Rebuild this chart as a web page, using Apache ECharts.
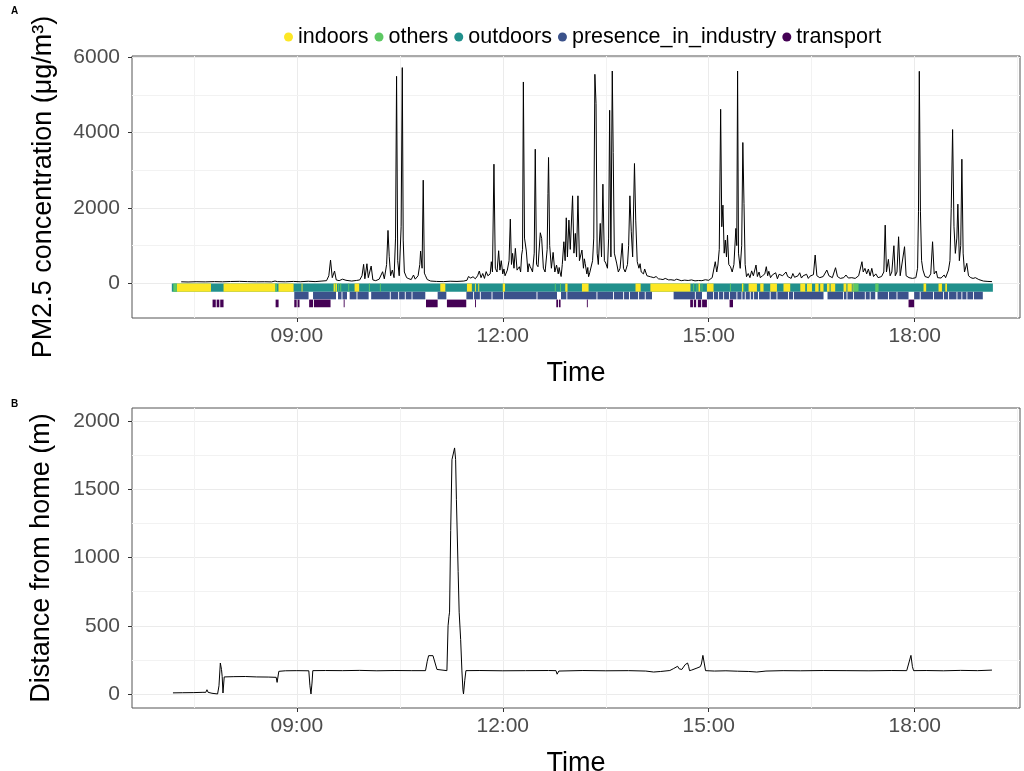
<!DOCTYPE html>
<html><head><meta charset="utf-8">
<script src="https://cdn.jsdelivr.net/npm/echarts@6/dist/echarts.min.js"></script>
<style>html,body{margin:0;padding:0;background:#fff}#c{width:1024px;height:771px}</style>
</head><body><div id="c"></div>
<script>
// ---- data (time in minutes after midnight) ----
const categories = ['indoors','others','outdoors','presence_in_industry','transport'];
const xTickMinutes = [540, 720, 900, 1080];
const xMinorMinutes = [450, 630, 810, 990, 1170];
const pmTicks = [0, 2000, 4000, 6000];
const pmMinor = [1000, 3000, 5000];
const distTicks = [0, 500, 1000, 1500, 2000];
const distMinor = [250, 750, 1250, 1750];

const pm25 = [[439,40],[445,35],[452,42],[460,38],[468,45],[475,40],[482,48],[490,52],[497,45],[505,40],[512,42],[518,38],[521,60],[522,105],[523,45],[530,40],[537,50],[543,42],[550,55],[556,45],[562,60],[566,70],[568,200],[569.5,617],[571,150],[573,326],[574.5,90],[577,70],[580,110],[581.5,160],[583,80],[588,60],[592,75],[595,90],[597,200],[598.4,503],[599.5,120],[601.3,519],[602.5,150],[605,458],[606.5,90],[609,70],[612,110],[615,308],[616.5,120],[618.5,500],[619.7,1403],[620.8,705],[622,200],[623.5,352],[625,150],[626.3,1200],[627.2,5491],[628.2,600],[629.5,200],[631.2,1500],[632.2,5722],[633,1147],[634,300],[636,150],[638,120],[640,100],[642,220],[643.5,110],[646,200],[647.5,500],[648.2,856],[649.5,400],[650.5,2736],[651.5,270],[652.5,200],[654,100],[657,60],[662,50],[668,45],[674,55],[680,50],[686,60],[688.7,80],[690,180],[692,140],[694,175],[696,120],[698,200],[699.5,326],[701,150],[702.5,260],[704,130],[705.5,310],[707,200],[709,250],[710,573],[711,300],[712.3,3160],[713.5,400],[715,300],[716.4,864],[717.5,350],[718.7,600],[720,250],[721,380],[722,200],[724,350],[725.5,600],[726.6,1703],[727.6,500],[728.6,794],[729.8,400],[731,927],[732.5,350],[734.5,440],[735.6,300],[736.5,750],[737.3,900],[738,5341],[739,1200],[740.6,856],[742,300],[743,520],[744,440],[745,380],[746,300],[747.5,800],[748.4,3558],[749.5,500],[750.8,440],[752,400],[752.8,1341],[754,1192],[755.5,400],[757,300],[758.8,900],[759.5,2384],[760,3338],[761,1000],[762.5,400],[764,820],[765.5,300],[767,485],[768.5,250],[769.3,420],[770,300],[771,180],[772,500],[773.4,1103],[774.5,600],[775.5,1738],[776.5,700],[777.8,1677],[779,900],[781,2321],[782.2,800],[783.4,1324],[784.5,700],[785.7,2321],[787,600],[789.2,882],[790.5,400],[791.3,650],[792,530],[793.5,250],[794.3,420],[795,175],[796,280],[797,300],[798.5,600],[799.5,1200],[800.5,5544],[801.5,4768],[802.5,800],[803.5,500],[805.2,1589],[806.3,700],[807.5,2630],[808.8,600],[810,537],[811.5,400],[812.5,1200],[813.4,4591],[814.5,700],[815.7,5632],[816.5,3470],[817.5,800],[819.5,537],[821,300],[822.5,400],[824.4,1060],[825.5,400],[827,300],[829,500],[830,1000],[831.1,2321],[832.3,1367],[833.5,700],[835.1,3178],[836.2,1677],[837.5,573],[839,400],[840,520],[841,300],[842,260],[843,250],[844,380],[846,200],[847,240],[849,175],[850,210],[852,150],[854,180],[856,120],[858,110],[860,100],[862,130],[865,90],[867,95],[870,80],[872,110],[876,70],[879,85],[882,75],[885,90],[888,65],[891,75],[894,70],[897,95],[900,80],[903,150],[905.7,573],[907,300],[908,485],[909.2,900],[910.4,4617],[911.4,1500],[912.4,2074],[913.5,800],[914.5,1147],[915.5,700],[916.4,1280],[917.5,500],[919,441],[920.5,300],[922,500],[923.7,1456],[924.5,1000],[925.2,5632],[926,800],[927.5,397],[928.8,1000],[929.8,3735],[930.8,2119],[931.8,500],[933,175],[934.5,260],[936,150],[937.5,330],[939,200],[940,250],[941.3,485],[942.5,180],[944,300],[945,150],[947,200],[948,180],[949,250],[950.3,441],[951.5,200],[952.5,320],[954,150],[955.5,220],[957,180],[958.5,280],[960,120],[961.5,240],[963,200],[964.5,200],[966,150],[967.5,300],[969,180],[970.5,200],[972,130],[973.5,260],[975,160],[976.5,190],[978,200],[979.5,280],[981,140],[982.5,200],[984,170],[985.5,240],[987,130],[988.5,190],[990,160],[991.5,230],[993,750],[994.5,200],[997,150],[1000,180],[1003.2,352],[1005,200],[1008,150],[1010.8,414],[1012.5,180],[1015,130],[1018,150],[1019.9,220],[1022,140],[1025,150],[1028,130],[1031,200],[1033.9,573],[1035,300],[1036.5,397],[1038,250],[1039.5,380],[1041,200],[1042.5,397],[1044,180],[1046,250],[1048,150],[1051,180],[1053,300],[1054.2,1544],[1055.3,300],[1057,635],[1058.5,200],[1060,300],[1061.8,997],[1063,200],[1064.5,300],[1065.9,1235],[1067.3,200],[1069,250],[1071.1,971],[1072.5,200],[1075,150],[1078,130],[1081,150],[1082.5,400],[1083.3,1897],[1084,5624],[1085,1897],[1086,600],[1087.2,352],[1089,180],[1092,150],[1094,250],[1095.6,1103],[1097,250],[1098.8,326],[1100,150],[1103,140],[1105.7,220],[1107,150],[1109.5,352],[1110.8,600],[1111.9,1986],[1113.1,4079],[1114.3,1500],[1115.5,794],[1116.8,1200],[1117.7,2100],[1119,600],[1120.2,1000],[1121.2,3292],[1122.3,800],[1123.5,300],[1125.5,530],[1127,200],[1129,150],[1131,130],[1133,150],[1136,100],[1140,60],[1144,50],[1147.5,45]];

const distance = [[431.8,8],[440,9],[450,10],[458,12],[460.5,12],[461.5,31],[462.5,12],[465.9,5],[470.8,0],[472,60],[473.2,227],[474.2,180],[474.8,129],[475.5,7],[476.6,125],[485,127],[495,128],[505,125],[515,124],[522,122],[522.8,85],[524.3,166],[530,170],[540,171],[550.5,170],[551.5,60],[552.4,0],[553.3,80],[554,171],[565,172],[580,171],[595,173],[610,170],[625,172],[640,171],[652.5,171],[654,240],[655.2,281],[659,281],[660.5,270],[662.5,180],[663.1,171],[671.2,171],[672.2,500],[673,569],[673.5,600],[674.5,1200],[675.6,1719],[677,1730],[677.9,1805],[678.8,1720],[679.5,1425],[681,900],[681.9,600],[682.5,590],[683.2,400],[684.3,169],[685.2,30],[685.7,0],[686.8,100],[687.8,171],[700,172],[720,170],[740,171],[760,172],[766.5,171],[767.5,145],[768.2,134],[769,168],[770,171],[790,172],[810,170],[830,171],[845,168],[851.8,161],[858,165],[866,172],[869,185],[870.7,183],[872.8,203],[874.2,184],[876.5,180],[879.4,215],[881.5,227],[882.5,200],[883.2,171],[885,175],[886.7,183],[889.7,190],[892.6,200],[893.6,220],[894.9,283],[896.2,220],[897.2,171],[905,168],[915,170],[925,167],[935,165],[942,161],[950,168],[965,171],[980,170],[1000,172],[1020,171],[1040,170],[1060,172],[1073,171],[1074.6,175],[1076.7,283],[1078,200],[1079,171],[1090,172],[1105,170],[1120,173],[1135,171],[1147.5,175]];

// activity spans [start, end] in minutes
const outdoorsSpans = [[430.8,1148.3]];
const indoorsSpans = [[435.2,465],[476,521.2],[524,537.2],[544.2,545],[572.2,575.1],[590.5,594.5],[665.4,669.8],[688.7,693],[695.7,696.5],[698.6,699.3],[720,722],[774.6,776.6],[789.2,795],[836,840.5],[849,884],[891,892.5],[898.4,904.2],[929,930],[934.8,942.1],[945,947.9],[953.7,959.6],[965.3,971.2],[980,984.3],[985.8,990.2],[993,996],[997.4,1000.3],[1003.3,1005.6],[1006.5,1010.5],[1017.8,1020.3],[1021.2,1025],[1025.8,1026.5],[1087.7,1090],[1100.8,1103.8],[1106.7,1108.2]];
const othersSpans = [[432.1,435.2],[521.2,522.6],[573.3,574],[576.2,577],[578,578.8],[585,585.8],[603,603.8],[612.6,613.4],[765.5,766.3],[770,770.8],[886.4,887.2],[889.3,890.1],[893.7,894.5],[918.5,919.3],[930,931],[1026.5,1030.9],[1045.5,1048.4]];
const industrySpans = [[537.8,550.3],[554.2,574.3],[576,579.1],[579.9,583.9],[586.2,592.2],[593,602.8],[605,621.3],[622.1,628.6],[629.4,634.4],[635.2,640.3],[641.1,652.3],[663.1,670.7],[688.2,694.1],[694.9,700],[700.8,710.2],[711,720.3],[721.1,749.5],[750.3,767.4],[770.9,775.6],[776.4,801.9],[802.7,816.4],[817.2,825.2],[826,830.4],[831.2,838.3],[839.1,844.1],[844.9,850.4],[869.3,887.9],[888.7,894.1],[898.4,903.8],[904.6,908.2],[909,912.6],[913.4,917.8],[918.6,924.2],[925,928.6],[929.4,931.5],[932.3,935.9],[936.7,938.8],[939.6,943.1],[943.9,953.3],[954.1,959.2],[960,969.3],[970.1,973.7],[974.5,1000.3],[1003.8,1017.4],[1018.2,1020.4],[1021.2,1026.1],[1026.9,1036.4],[1037.2,1040.7],[1041.5,1045.5],[1047.5,1056.7],[1057.5,1064.1],[1064.9,1074.6],[1079.5,1084.4],[1085.2,1096],[1096.8,1104.8],[1105.6,1109.2],[1110,1116.5],[1117.3,1120.8],[1121.6,1125.2],[1126,1131],[1131.8,1139.5]];
const transportSpans = [[466.4,469.2],[470,472.3],[473.1,476],[521.5,524.1],[537.8,539.9],[540.7,542.4],[550.8,554.2],[555,569.5],[581,581.8],[652.9,663.1],[671.2,688.1],[695.8,696.6],[766.8,768.3],[769.1,770.5],[793.5,794.3],[883.8,886.2],[887,889],[890.5,893.4],[894.2,898.4],[918.2,921.2],[1074.6,1079.5]];

// ---- presentation ----
const colors = {indoors:'#FDE725', others:'#5DC863', outdoors:'#21908C', presence_in_industry:'#3B528B', transport:'#440154'};
const rowRange = {indoors:[-5,-225], others:[-5,-225], outdoors:[-5,-225], presence_in_industry:[-225,-425], transport:[-432,-635]};
const FONT = '"Liberation Sans", Arial, sans-serif';
function hhmm(v){const h=Math.floor(v/60), m=Math.round(v%60);return String(h).padStart(2,'0')+':'+String(m).padStart(2,'0');}

function spanSeries(name, spans){
  const rr = rowRange[name];
  return {
    name, type:'custom', xAxisIndex:0, yAxisIndex:0, z:3,
    itemStyle:{color:colors[name]},
    encode:{x:[0,1]},
    data: spans,
    renderItem:function(params, api){
      const p0 = api.coord([api.value(0), rr[0]]);
      const p1 = api.coord([api.value(1), rr[1]]);
      return {type:'rect', shape:{x:p0[0], y:p0[1], width:Math.max(p1[0]-p0[0],0.9), height:p1[1]-p0[1]},
              style:{fill:colors[name]}};
    }
  };
}

const gridL = 132, gridW = 888;
const xAxisBase = (gi) => ({
  type:'value', gridIndex:gi, min:396, max:1172, position:'bottom',
  name:'Time', nameLocation:'middle', nameGap:42,
  nameTextStyle:{fontSize:27, color:'#000', fontFamily:FONT},
  axisLine:{show:false, onZero:false},
  axisTick:{show:true, length:4, lineStyle:{color:'#333'}, customValues:xTickMinutes},
  axisLabel:{customValues:xTickMinutes, formatter:hhmm, fontSize:21, color:'#4d4d4d', fontFamily:FONT, margin:8},
  splitLine:{show:true, lineStyle:{color:'#ebebeb', width:1}}
});
const yAxisBase = (gi, min, max, ticks, name, gap) => ({
  type:'value', gridIndex:gi, min, max, position:'left',
  name, nameLocation:'middle', nameGap:gap, nameRotate:90,
  nameTextStyle:{fontSize:27, color:'#000', fontFamily:FONT},
  axisLine:{show:false, onZero:false},
  axisTick:{show:true, length:4, lineStyle:{color:'#333'}, customValues:ticks},
  axisLabel:{customValues:ticks, formatter:(v)=>String(v), fontSize:21, color:'#4d4d4d', fontFamily:FONT, margin:12},
  splitLine:{show:true, lineStyle:{color:'#ebebeb', width:1}}
});
const minorLines = (xs, ys) => ({
  silent:true, symbol:'none', z:1, animation:false,
  label:{show:false}, emphasis:{disabled:true},
  lineStyle:{color:'#f2f2f2', width:1, type:'solid'},
  data: xs.map(v=>({xAxis:v})).concat(ys.map(v=>({yAxis:v})))
});

const chart = echarts.init(document.getElementById('c'), null, {renderer:'canvas'});
chart.setOption({
  animation:false,
  backgroundColor:'#fff',
  textStyle:{fontFamily:FONT},
  legend:{
    data:categories.map(n=>({name:n, icon:'circle'})),
    top:21, left:279, itemWidth:9, itemHeight:9, itemGap:6,
    textStyle:{fontSize:21.5, color:'#000', fontFamily:FONT},
    selectedMode:false
  },
  grid:[
    {left:gridL, top:56, width:gridW, height:262, show:true, borderColor:'#555', borderWidth:1, backgroundColor:'#fff', containLabel:false, outerBoundsMode:'none'},
    {left:gridL, top:408, width:gridW, height:300, show:true, borderColor:'#555', borderWidth:1, backgroundColor:'#fff', containLabel:false, outerBoundsMode:'none'}
  ],
  xAxis:[xAxisBase(0), xAxisBase(1)],
  yAxis:[
    yAxisBase(0, -920, 6030, pmTicks, 'PM2.5 concentration (μg/m³)', 75),
    yAxisBase(1, -103, 2098, distTicks, 'Distance from home (m)', 77)
  ],
  graphic:[
    {type:'text', left:11, top:6, style:{text:'A', font:'bold 10px '+FONT, fill:'#000'}},
    {type:'text', left:11, top:399, style:{text:'B', font:'bold 10px '+FONT, fill:'#000'}}
  ],
  series:[
    spanSeries('outdoors', outdoorsSpans),
    spanSeries('indoors', indoorsSpans),
    spanSeries('others', othersSpans),
    spanSeries('presence_in_industry', industrySpans),
    spanSeries('transport', transportSpans),
    {name:'PM2.5', type:'line', xAxisIndex:0, yAxisIndex:0, data:pm25, showSymbol:false, symbol:'none', z:4,
     lineStyle:{color:'#000', width:1}, markLine:minorLines(xMinorMinutes, pmMinor)},
    {name:'Distance', type:'line', xAxisIndex:1, yAxisIndex:1, data:distance, showSymbol:false, symbol:'none', z:4,
     lineStyle:{color:'#000', width:1}, markLine:minorLines(xMinorMinutes, distMinor)}
  ]
});
</script>
</body></html>
